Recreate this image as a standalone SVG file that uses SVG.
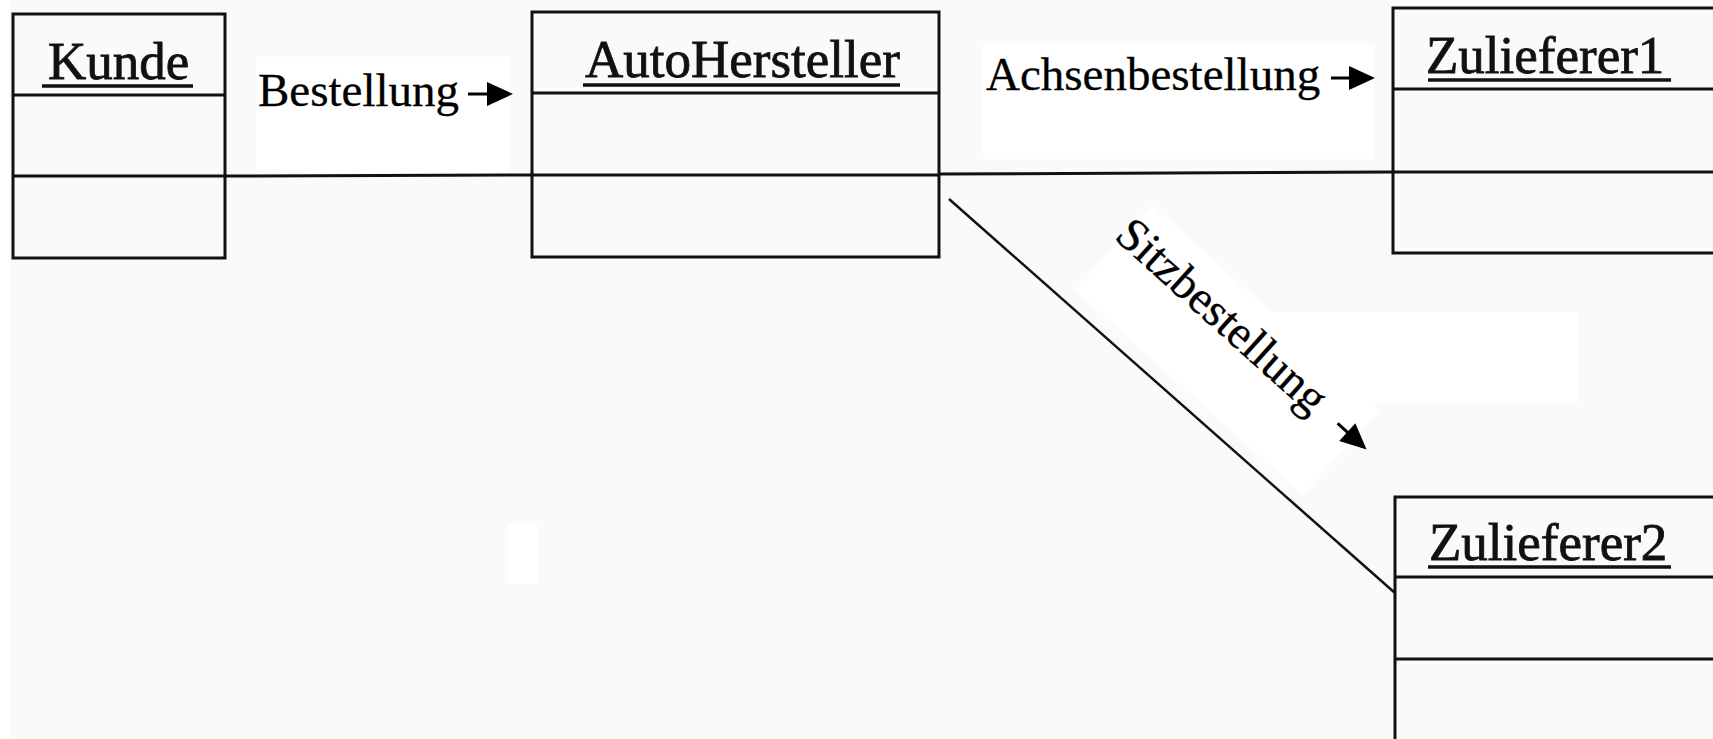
<svg xmlns="http://www.w3.org/2000/svg" width="1713" height="739" viewBox="0 0 1713 739">
  <style>
    .box { fill: none; stroke: #111; stroke-width: 3; }
    .sep { stroke: #111; stroke-width: 3; }
    .name { font-family: "Liberation Serif", "Times New Roman", serif; font-size: 53px; fill: #111; stroke: #111; stroke-width: 0.8; }
    .ul { stroke: #111; stroke-width: 3.5; }
    .lbl { font-family: "Liberation Serif", "Times New Roman", serif; font-size: 47px; fill: #000; stroke: #000; stroke-width: 0.3; }
    .conn { fill: none; stroke: #111; stroke-width: 3; }
    .diag { fill: none; stroke: #111; stroke-width: 2.5; }
    .arr { stroke: #000; stroke-width: 3; }
    .head { fill: #000; }
    .patch { fill: #ffffff; }
  </style>

  <!-- paper -->
  <rect x="0" y="0" width="1713" height="739" fill="#fafafa"/>
  <rect x="0" y="0" width="10" height="739" class="patch"/>

  <!-- label backgrounds -->
  <g id="label-backgrounds">
    <rect x="256" y="57" width="254" height="116" class="patch"/>
    <rect x="983" y="44" width="391" height="115" class="patch"/>
    <polygon points="1152,205 1075,290 1303,495 1380,410" class="patch"/>
    <rect x="1268" y="312" width="311" height="91" class="patch"/>
    <rect x="508" y="524" width="29" height="60" class="patch"/>
  </g>

  <!-- connectors -->
  <g id="connectors">
    <line x1="225" y1="176" x2="532" y2="175" class="conn"/>
    <line x1="939" y1="174" x2="1393" y2="172" class="conn"/>
    <line x1="949" y1="199" x2="1395" y2="593" class="diag"/>
  </g>

  <!-- association labels -->
  <g id="label-bestellung">
    <text x="258" y="106" class="lbl">Bestellung</text>
    <line x1="468" y1="94" x2="490" y2="94" class="arr"/>
    <polygon points="487,82 513,94 487,106" class="head"/>
  </g>
  <g id="label-achsenbestellung">
    <text x="986" y="90" class="lbl">Achsenbestellung</text>
    <line x1="1331" y1="78" x2="1352" y2="78" class="arr"/>
    <polygon points="1349,66 1375,78 1349,90" class="head"/>
  </g>
  <g id="label-sitzbestellung" transform="translate(1113,238) rotate(42)">
    <text x="0" y="0" class="lbl">Sitzbestellung</text>
    <line x1="291" y1="-12.5" x2="307" y2="-12.5" class="arr"/>
    <polygon points="304,-24.5 330,-12.5 304,-0.5" class="head"/>
  </g>

  <!-- objects -->
  <g id="kunde">
    <rect x="13" y="14" width="212" height="244" class="box"/>
    <line x1="13" y1="95" x2="225" y2="95" class="sep"/>
    <line x1="13" y1="176" x2="225" y2="176" class="sep"/>
    <text x="48" y="79" class="name">Kunde</text>
    <line x1="42" y1="86" x2="193" y2="86" class="ul"/>
  </g>

  <g id="autohersteller">
    <rect x="532" y="12" width="407" height="245" class="box"/>
    <line x1="532" y1="93" x2="939" y2="93" class="sep"/>
    <line x1="532" y1="175" x2="939" y2="175" class="sep"/>
    <text x="585" y="77" class="name">AutoHersteller</text>
    <line x1="583" y1="85" x2="900" y2="85" class="ul"/>
  </g>

  <g id="zulieferer1">
    <rect x="1393" y="8" width="330" height="245" class="box"/>
    <line x1="1393" y1="89" x2="1723" y2="89" class="sep"/>
    <line x1="1393" y1="172" x2="1723" y2="172" class="sep"/>
    <text x="1426" y="73" class="name">Zulieferer1</text>
    <line x1="1428" y1="80" x2="1671" y2="80" class="ul"/>
  </g>

  <g id="zulieferer2">
    <rect x="1395" y="497" width="330" height="260" class="box"/>
    <line x1="1395" y1="577" x2="1725" y2="577" class="sep"/>
    <line x1="1395" y1="659" x2="1725" y2="659" class="sep"/>
    <text x="1429" y="560" class="name">Zulieferer2</text>
    <line x1="1428" y1="567" x2="1671" y2="567" class="ul"/>
  </g>
</svg>
